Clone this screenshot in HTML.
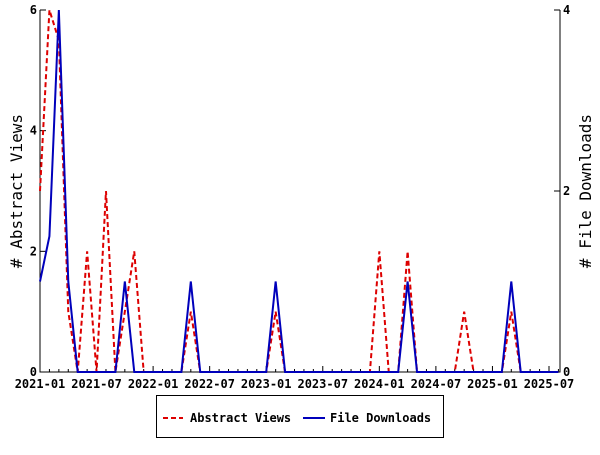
<!DOCTYPE html>
<html><head><meta charset="utf-8"><style>
body{margin:0;background:#fff;}
svg text{font-family:"DejaVu Sans Mono","Liberation Mono",monospace;font-weight:bold;font-size:12px;fill:#000;}
svg text.title{font-weight:normal;font-size:16px;}
</style></head><body>
<svg id="chart" width="600" height="450" xmlns="http://www.w3.org/2000/svg"></svg>
<script>
const startYear = 2021, startMonth = 1;
const monthCount = 56;
const xTickLabels = ["2021-01","2021-07","2022-01","2022-07","2023-01","2023-07","2024-01","2024-07","2025-01","2025-07"];
const leftTicks = [0,2,4,6];
const rightTicks = [0,2,4];
// non-zero values by month index
const abstractViewsIdx = [0,1,2,3,5,7,9,10,16,25,36,39,45,50];
const abstractViewsVal = [3,6,5.5,1,2,3,1,2,1,1,2,2,1,1];
const downloadsIdx = [0,1,2,3,9,16,25,39,50];
const downloadsVal = [1,1.5,4,1,1,1,1,1,1];

const NS="http://www.w3.org/2000/svg";
const svg=document.getElementById('chart');
const L=40,R=560,T=10,B=372;
const pxPerMonth=(549-40)/54;
const xs=i=>L+i*pxPerMonth;
const yl=v=>B-(B-T)*v/6;
const yr=v=>B-(B-T)*v/4;
function mk(tag,attrs,parent){const e=document.createElementNS(NS,tag);for(const k in attrs)e.setAttribute(k,attrs[k]);(parent||svg).appendChild(e);return e;}
function series(idx,val){const a=new Array(monthCount).fill(0);idx.forEach((m,j)=>a[m]=val[j]);return a;}
const av=series(abstractViewsIdx,abstractViewsVal), dl=series(downloadsIdx,downloadsVal);

let e=mk('path',{d:`M${L},${T}V${B}H${R}V${T}`,fill:'none',stroke:'#000','stroke-width':1});

let mt='';for(let i=0;i<=55;i++){const x=xs(i);mt+=`M${x},${B}v${i%6===0?-6:-3}`;}
e=mk('path',{d:mt,stroke:'#000','stroke-width':1});

xTickLabels.forEach((t,k)=>{const x=xs(k*6);
 e=mk('text',{x:x,y:B+16,'text-anchor':'middle'});e.textContent=t;
 });
leftTicks.forEach(v=>{mk('path',{d:`M${L},${yl(v)}h6`,stroke:'#000'});
 e=mk('text',{x:L-3,y:yl(v)+4,'text-anchor':'end'});e.textContent=v;
 });
rightTicks.forEach(v=>{mk('path',{d:`M${R},${yr(v)}h-6`,stroke:'#000'});
 e=mk('text',{x:R+3,y:yr(v)+4,'text-anchor':'start'});e.textContent=v;
 });
e=mk('text',{x:22,y:191,'text-anchor':'middle',transform:'rotate(-90 22 191)','class':'title'});e.textContent='# Abstract Views';

e=mk('text',{x:591,y:191,'text-anchor':'middle',transform:'rotate(-90 591 191)','class':'title'});e.textContent='# File Downloads';


e=mk('polyline',{points:av.map((v,i)=>xs(i)+','+yl(v)).join(' '),fill:'none',stroke:'#dd0000','stroke-width':2,'stroke-dasharray':'5,3'});

e=mk('polyline',{points:dl.map((v,i)=>xs(i)+','+yr(v)).join(' '),fill:'none',stroke:'#0000bb','stroke-width':2});


const g=mk('g',{});
mk('rect',{x:156.5,y:395.5,width:287,height:42,fill:'#fff',stroke:'#000'},g);
mk('line',{x1:163,y1:418,x2:183,y2:418,stroke:'#dd0000','stroke-width':2,'stroke-dasharray':'5,3'},g);
e=mk('text',{x:190,y:422},g);e.textContent='Abstract Views';

mk('line',{x1:303,y1:418,x2:325,y2:418,stroke:'#0000bb','stroke-width':2},g);
e=mk('text',{x:330,y:422},g);e.textContent='File Downloads';

</script>
</body></html>
